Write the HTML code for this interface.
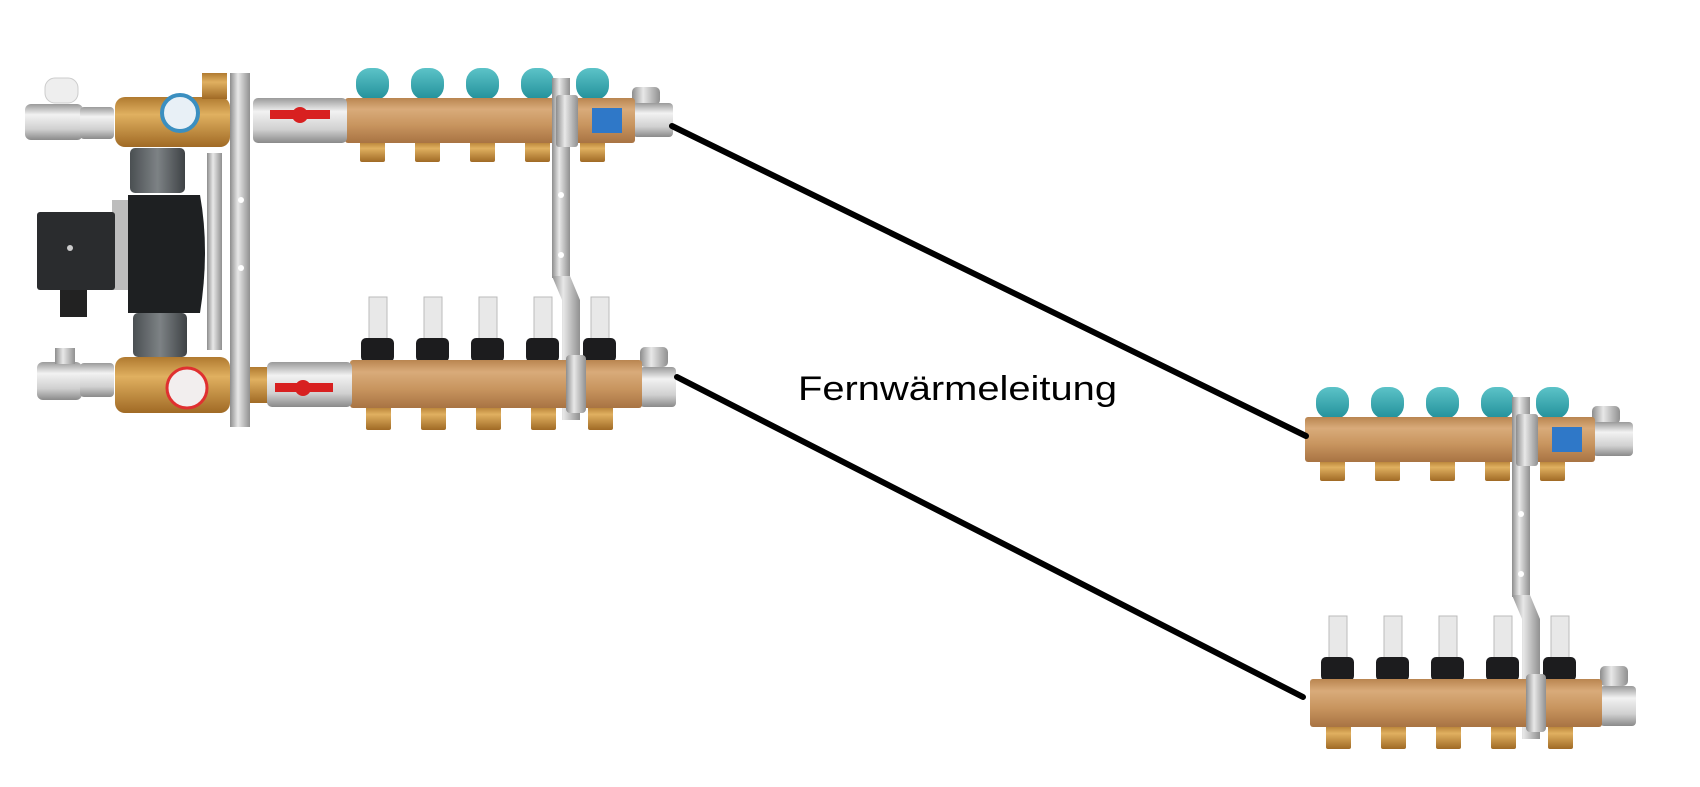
<!DOCTYPE html>
<html><head><meta charset="utf-8"><style>
html,body{margin:0;padding:0;background:#fff}
svg{display:block}
</style></head><body>
<svg width="1700" height="787" viewBox="0 0 1700 787" xmlns="http://www.w3.org/2000/svg">
<defs>
<linearGradient id="br" x1="0" y1="0" x2="0" y2="1">
<stop offset="0" stop-color="#b98550"/><stop offset="0.25" stop-color="#d9ab7a"/><stop offset="0.6" stop-color="#c8955f"/><stop offset="1" stop-color="#a87343"/></linearGradient>
<linearGradient id="br2" x1="0" y1="0" x2="0" y2="1">
<stop offset="0" stop-color="#b07a30"/><stop offset="0.35" stop-color="#e0b060"/><stop offset="1" stop-color="#a06a25"/></linearGradient>
<linearGradient id="sv" x1="0" y1="0" x2="0" y2="1">
<stop offset="0" stop-color="#9a9a9a"/><stop offset="0.3" stop-color="#f2f2f2"/><stop offset="0.7" stop-color="#d0d0d0"/><stop offset="1" stop-color="#8a8a8a"/></linearGradient>
<linearGradient id="svh" x1="0" y1="0" x2="1" y2="0">
<stop offset="0" stop-color="#8d8d8d"/><stop offset="0.4" stop-color="#e8e8e8"/><stop offset="1" stop-color="#909090"/></linearGradient>
<linearGradient id="tl" x1="0" y1="0" x2="0" y2="1">
<stop offset="0" stop-color="#5cc3c8"/><stop offset="1" stop-color="#22909a"/></linearGradient>
<linearGradient id="gr" x1="0" y1="0" x2="1" y2="0">
<stop offset="0" stop-color="#4a4f52"/><stop offset="0.5" stop-color="#7d8285"/><stop offset="1" stop-color="#3e4245"/></linearGradient>
<g id="M">
 <g fill="url(#tl)">
  <rect x="356" y="68" width="33" height="32" rx="14"/>
  <rect x="411" y="68" width="33" height="32" rx="14"/>
  <rect x="466" y="68" width="33" height="32" rx="14"/>
  <rect x="521" y="68" width="33" height="32" rx="14"/>
  <rect x="576" y="68" width="33" height="32" rx="14"/>
 </g>
 <g fill="url(#br2)">
  <rect x="360" y="141" width="25" height="21" rx="2"/>
  <rect x="415" y="141" width="25" height="21" rx="2"/>
  <rect x="470" y="141" width="25" height="21" rx="2"/>
  <rect x="525" y="141" width="25" height="21" rx="2"/>
  <rect x="580" y="141" width="25" height="21" rx="2"/>
 </g>
 <rect x="632" y="87" width="28" height="18" rx="5" fill="url(#svh)"/>
 <rect x="633" y="103" width="40" height="34" rx="4" fill="url(#sv)"/>
 <rect x="345" y="98" width="290" height="45" rx="3" fill="url(#br)"/>
 <rect x="592" y="108" width="30" height="25" fill="#2f78c8"/>
 <rect x="552" y="78" width="18" height="200" fill="url(#svh)"/>
 <polygon points="552,276 570,276 580,300 580,420 562,420 562,300" fill="url(#svh)"/>
 <circle cx="561" cy="195" r="3" fill="#fff"/><circle cx="561" cy="255" r="3" fill="#fff"/>
 <rect x="556" y="95" width="22" height="52" rx="3" fill="url(#svh)"/>
 <g fill="#e8e8e8" stroke="#bbb">
  <rect x="369" y="297" width="18" height="42"/><rect x="424" y="297" width="18" height="42"/>
  <rect x="479" y="297" width="18" height="42"/><rect x="534" y="297" width="18" height="42"/>
  <rect x="591" y="297" width="18" height="42"/>
 </g>
 <g fill="#1c1c1e">
  <rect x="361" y="338" width="33" height="24" rx="5"/><rect x="416" y="338" width="33" height="24" rx="5"/>
  <rect x="471" y="338" width="33" height="24" rx="5"/><rect x="526" y="338" width="33" height="24" rx="5"/>
  <rect x="583" y="338" width="33" height="24" rx="5"/>
 </g>
 <g fill="url(#br2)">
  <rect x="366" y="406" width="25" height="24" rx="2"/><rect x="421" y="406" width="25" height="24" rx="2"/>
  <rect x="476" y="406" width="25" height="24" rx="2"/><rect x="531" y="406" width="25" height="24" rx="2"/>
  <rect x="588" y="406" width="25" height="24" rx="2"/>
 </g>
 <rect x="640" y="347" width="28" height="20" rx="5" fill="url(#svh)"/>
 <rect x="640" y="367" width="36" height="40" rx="4" fill="url(#sv)"/>
 <rect x="350" y="360" width="292" height="48" rx="3" fill="url(#br)"/>
 <rect x="566" y="355" width="20" height="58" rx="4" fill="url(#svh)"/>
</g>
</defs>

<use href="#M"/>
<rect x="45" y="78" width="33" height="25" rx="10" fill="#eee" stroke="#ccc"/>
<rect x="25" y="104" width="58" height="36" rx="6" fill="url(#sv)"/>
<rect x="80" y="107" width="34" height="32" rx="4" fill="url(#sv)"/>
<rect x="115" y="97" width="115" height="50" rx="10" fill="url(#br2)"/>
<rect x="202" y="73" width="25" height="26" fill="url(#br2)"/>
<circle cx="180" cy="113" r="18" fill="#e8f0f6" stroke="#3b8fc0" stroke-width="4"/>
<rect x="253" y="98" width="94" height="45" rx="5" fill="url(#sv)"/>
<rect x="270" y="110" width="60" height="9" fill="#d82020"/>
<circle cx="300" cy="115" r="8" fill="#d82020"/>
<rect x="130" y="148" width="55" height="45" rx="5" fill="url(#gr)"/>
<rect x="112" y="200" width="22" height="90" fill="#bdbdbd"/>
<path d="M128 195 L200 195 Q210 250 200 313 L128 313 Z" fill="#1e2022"/>
<rect x="37" y="212" width="78" height="78" rx="3" fill="#2a2c2e"/>
<circle cx="70" cy="248" r="3" fill="#ccc"/>
<rect x="60" y="290" width="27" height="27" fill="#222"/>
<rect x="133" y="313" width="54" height="44" rx="5" fill="url(#gr)"/>
<rect x="207" y="153" width="15" height="197" fill="url(#svh)"/>
<rect x="230" y="73" width="20" height="354" fill="url(#svh)"/>
<circle cx="241" cy="200" r="3" fill="#fff"/><circle cx="241" cy="268" r="3" fill="#fff"/>
<rect x="37" y="362" width="45" height="38" rx="6" fill="url(#sv)"/>
<rect x="55" y="348" width="20" height="16" fill="url(#svh)"/>
<rect x="80" y="363" width="34" height="34" rx="4" fill="url(#sv)"/>
<rect x="115" y="357" width="115" height="56" rx="10" fill="url(#br2)"/>
<circle cx="187" cy="388" r="20" fill="#f2eeee" stroke="#e03030" stroke-width="3"/>
<rect x="250" y="367" width="18" height="36" fill="url(#br2)"/>
<rect x="267" y="362" width="85" height="45" rx="5" fill="url(#sv)"/>
<rect x="275" y="383" width="58" height="9" fill="#d82020"/>
<circle cx="303" cy="388" r="8" fill="#d82020"/>
<use href="#M" transform="translate(960,319)"/>
<line x1="672" y1="126" x2="1306" y2="436" stroke="#000" stroke-width="6" stroke-linecap="round"/>
<line x1="677" y1="377" x2="1303" y2="697" stroke="#000" stroke-width="6" stroke-linecap="round"/>
<text x="798" y="400" font-family="Liberation Sans, sans-serif" font-size="34" textLength="319" lengthAdjust="spacingAndGlyphs" fill="#000">Fernwärmeleitung</text>
</svg>
</body></html>
